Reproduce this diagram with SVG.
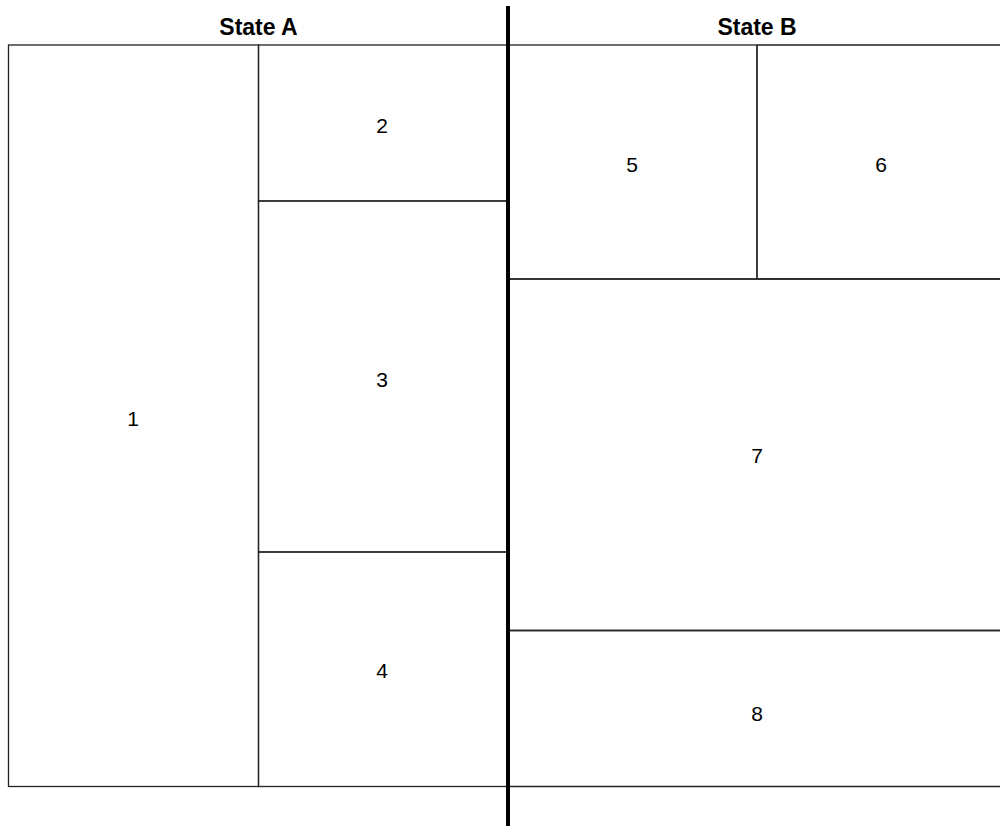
<svg xmlns="http://www.w3.org/2000/svg" width="1000" height="826" viewBox="0 0 1000 826">
<style>
.ln{stroke:#222;stroke-width:1.3;fill:none}
.hd{font-family:"Liberation Sans",Arial,sans-serif;font-weight:bold;font-size:23px;fill:#000;text-anchor:middle}
.nm{font-family:"Liberation Sans",Arial,sans-serif;font-size:21px;fill:#000;text-anchor:middle}
</style>
<rect width="1000" height="826" fill="#fff"/>
<g id="headerA"><text class="hd" x="258.5" y="35">State A</text></g>
<g id="headerB"><text class="hd" x="757" y="35">State B</text></g>
<g id="n1"><rect class="ln" x="8.5" y="45" width="250" height="741.5"/><text class="nm" x="133" y="426">1</text></g>
<g id="n2"><rect class="ln" x="258.5" y="45" width="250" height="156"/><text class="nm" x="382" y="133">2</text></g>
<g id="n3"><rect class="ln" x="258.5" y="201" width="250" height="351"/><text class="nm" x="382" y="387">3</text></g>
<g id="n4"><rect class="ln" x="258.5" y="552" width="250" height="234.5"/><text class="nm" x="382" y="678">4</text></g>
<g id="n5"><rect class="ln" x="508" y="45" width="249" height="234"/><text class="nm" x="632" y="172">5</text></g>
<g id="n6"><path class="ln" d="M757 45 H1001 M757 45 V279 M757 279 H1001"/><text class="nm" x="881" y="172">6</text></g>
<g id="n7"><path class="ln" d="M508 279 H1001 M508 630.5 H1001"/><text class="nm" x="757" y="463">7</text></g>
<g id="n8"><path class="ln" d="M508 630.5 H1001 M508 786.5 H1001"/><text class="nm" x="757" y="721">8</text></g>
<g id="connectors"><line x1="508" y1="6" x2="508" y2="826" stroke="#000" stroke-width="4"/></g>
</svg>
